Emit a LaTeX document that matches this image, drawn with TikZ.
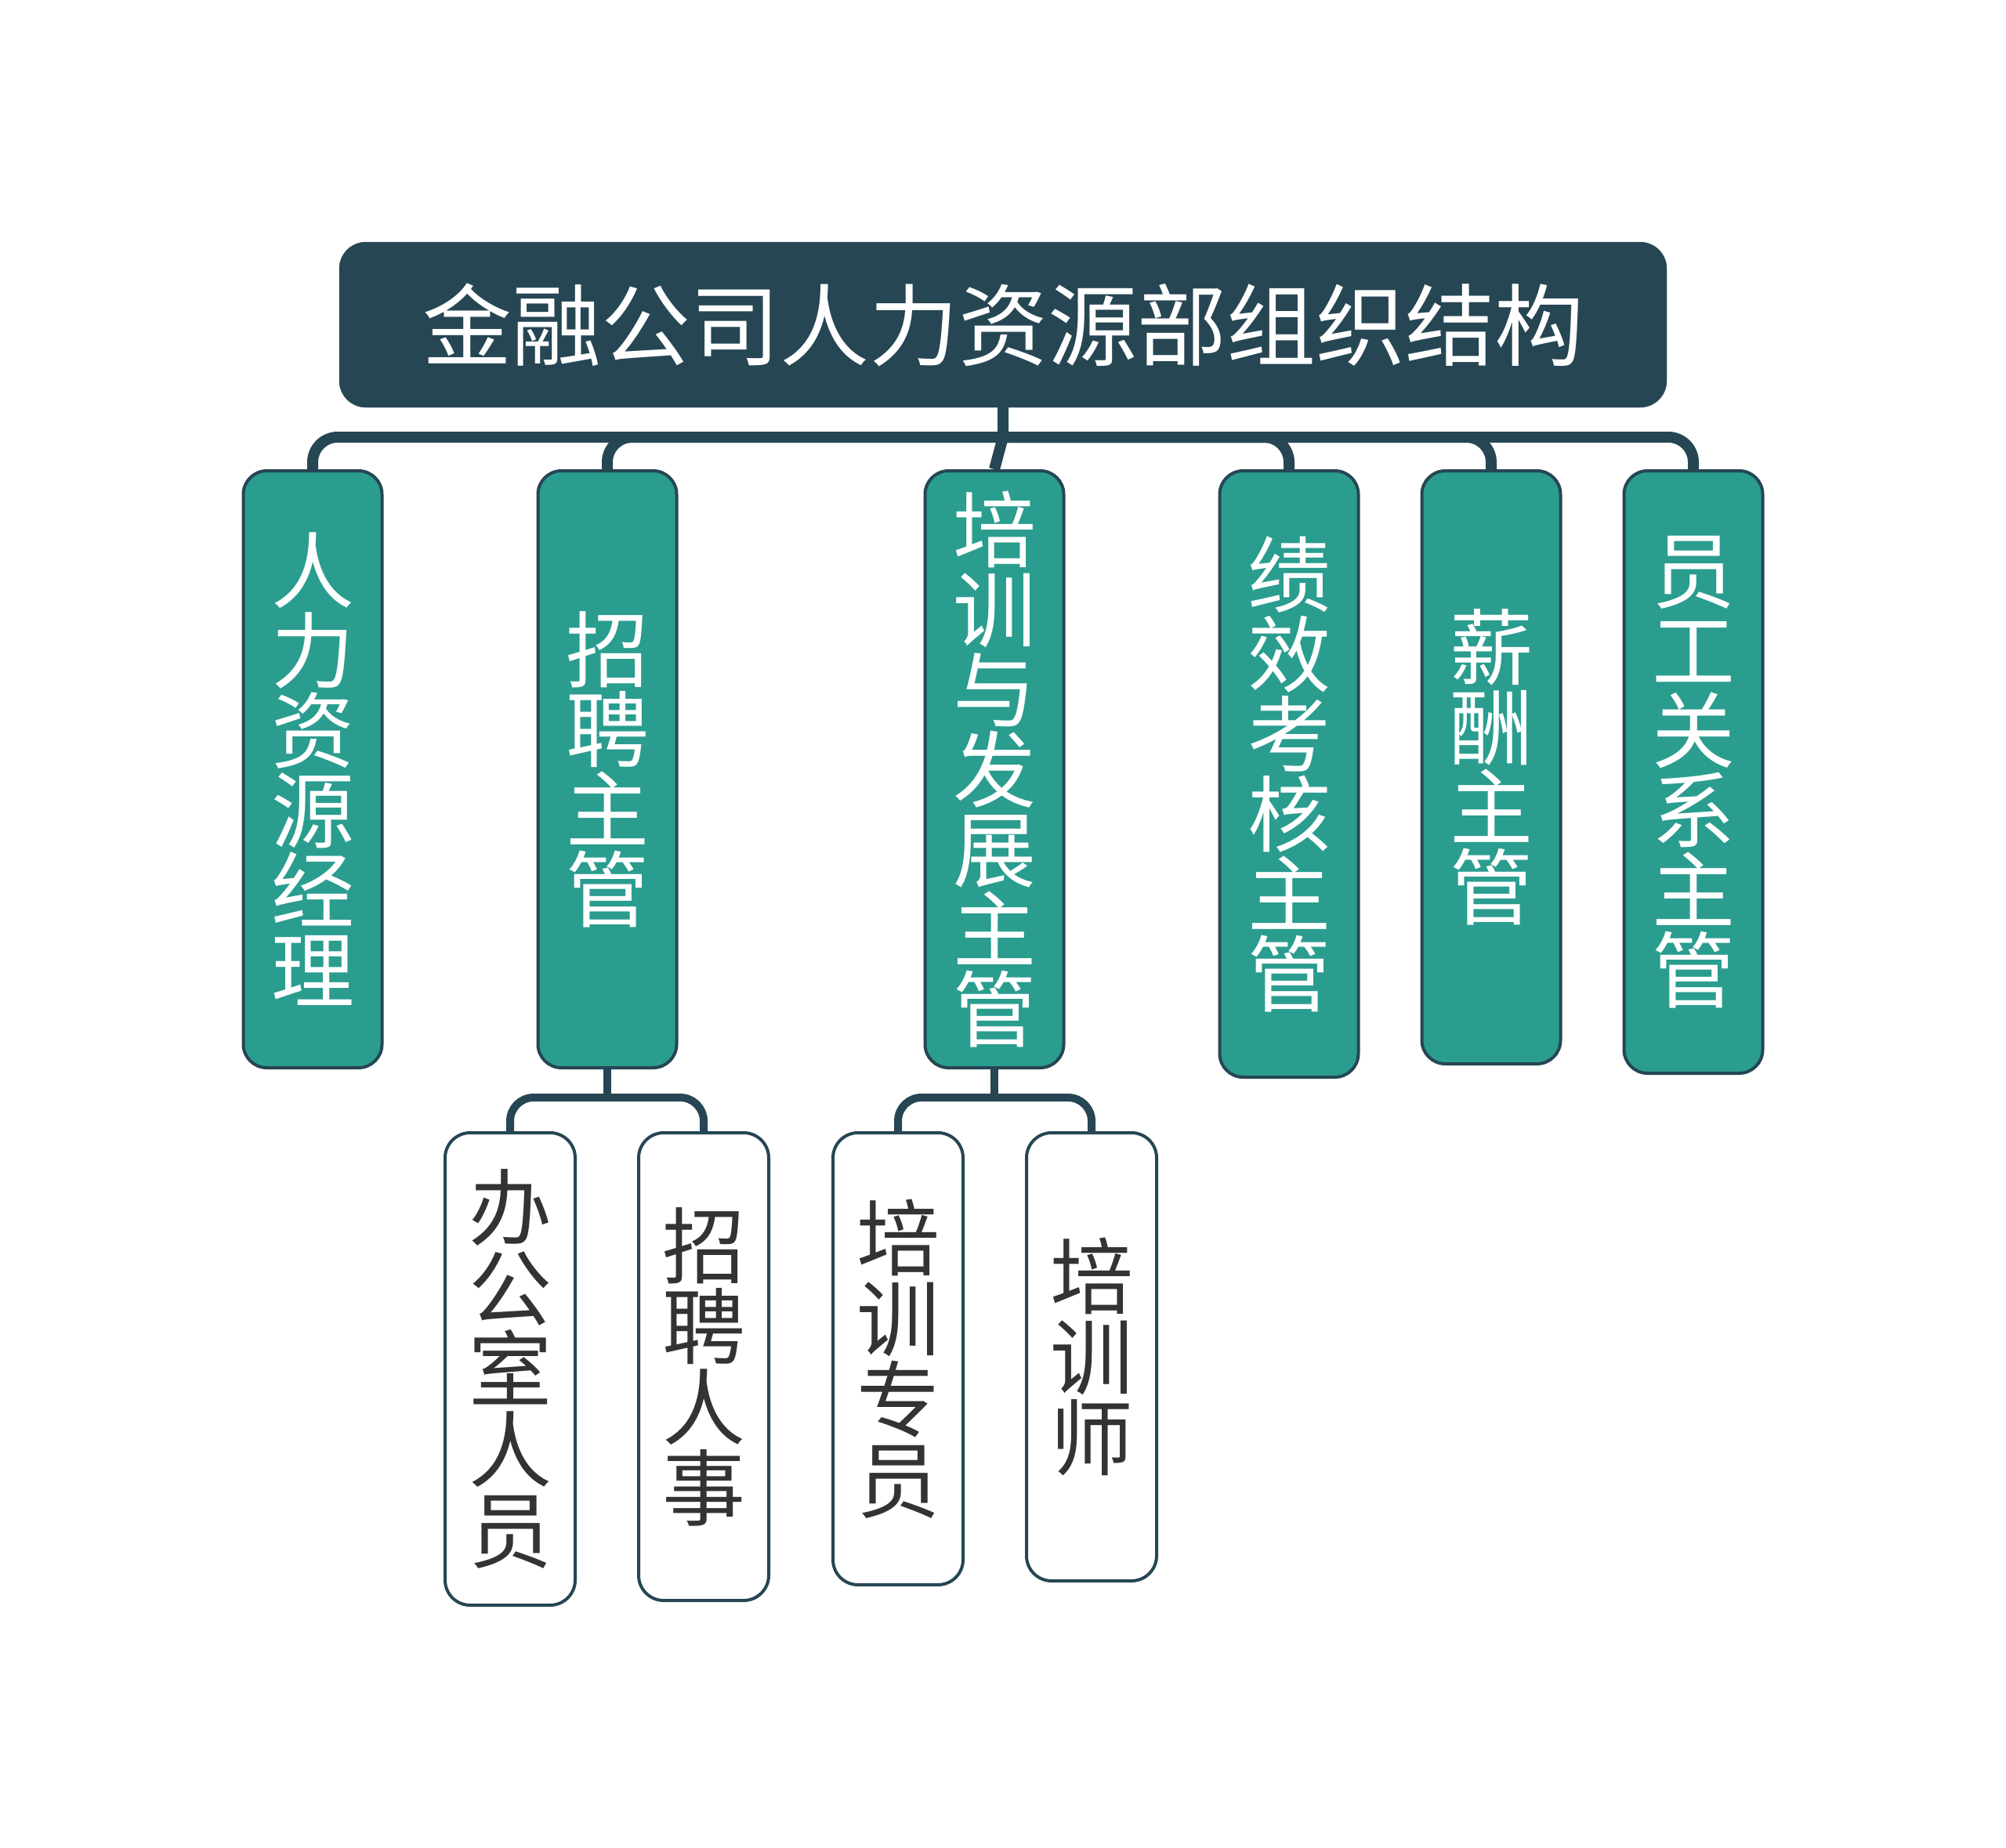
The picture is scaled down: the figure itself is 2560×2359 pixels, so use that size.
\documentclass[tikz,border=0pt]{standalone}
\usepackage{fontspec}
\newfontfamily\cjk{Noto Sans CJK SC}
\usetikzlibrary{backgrounds}
\definecolor{dk}{HTML}{264653}
\definecolor{tl}{HTML}{2A9D8F}
\definecolor{tx}{HTML}{333333}
\begin{document}
\begin{tikzpicture}[x=1pt,y=-1pt,
  conn/.style={draw=dk, line width=14pt, rounded corners=32pt},
  subconn/.style={draw=dk, line width=10pt, rounded corners=30pt},
  rootbox/.style={fill=dk, draw=dk, rounded corners=34pt, minimum width=1694pt, minimum height=211pt,
    text=white, font=\cjk\fontsize{114}{116}\selectfont, inner sep=0pt},
  lone/.style={fill=tl, draw=dk, line width=4pt, rounded corners=30pt, minimum width=177pt,
    anchor=north, text=white, align=center, font=\cjk\fontsize{106}{102}\selectfont, inner sep=0pt},
  ltwo/.style={fill=white, draw=dk, line width=4pt, rounded corners=32pt, minimum width=166pt,
    anchor=north, text=tx, align=center, font=\cjk\fontsize{106}{103}\selectfont, inner sep=0pt}
]
\useasboundingbox (0,0) rectangle (2560,2359);

\node[rootbox] (root) at (1280,414.5) {金融公司人力资源部组织结构};

\node[lone, minimum height=762pt] (n1) at (399,599) {人\\力\\资\\源\\经\\理};
\node[lone, minimum height=762pt] (n2) at (775,599) {招\\聘\\主\\管};
\node[lone, minimum height=762pt] (n3) at (1269,599) {培\\训\\与\\发\\展\\主\\管};
\node[lone, minimum height=774pt] (n4) at (1645,599) {绩\\效\\考\\核\\主\\管};
\node[lone, minimum height=757pt] (n5) at (1903,599) {薪\\酬\\主\\管};
\node[lone, minimum height=769pt] (n6) at (2161,599) {员\\工\\关\\系\\主\\管};

\node[ltwo, minimum height=603pt] (m1) at (651,1444) {办\\公\\室\\人\\员};
\node[ltwo, minimum height=597pt] (m2) at (898,1444) {招\\聘\\人\\事};
\node[ltwo, minimum height=577pt] (m3) at (1146,1444) {培\\训\\专\\员};
\node[ltwo, minimum height=572pt] (m4) at (1393,1444) {培\\训\\师};

\coordinate (bus) at (1280,558);
\coordinate (sb2) at (775,1401);
\coordinate (sb3) at (1269,1401);

\begin{pgfonlayer}{background}
\fill[white] (0,0) rectangle (2560,2359);
\draw[draw=dk, line width=14pt] (root.south) -- (bus) -- (n3.north);
\draw[conn] (bus) -| (n1.north);
\draw[conn] (bus) -| (n2.north);
\draw[conn] (bus) -| (n4.north);
\draw[conn] (bus) -| (n5.north);
\draw[conn] (bus) -| (n6.north);
\draw[draw=dk, line width=10pt] (n2.south) -- (sb2);
\draw[subconn] (sb2) -| (m1.north);
\draw[subconn] (sb2) -| (m2.north);
\draw[draw=dk, line width=10pt] (n3.south) -- (sb3);
\draw[subconn] (sb3) -| (m3.north);
\draw[subconn] (sb3) -| (m4.north);
\end{pgfonlayer}
\end{tikzpicture}
\end{document}
